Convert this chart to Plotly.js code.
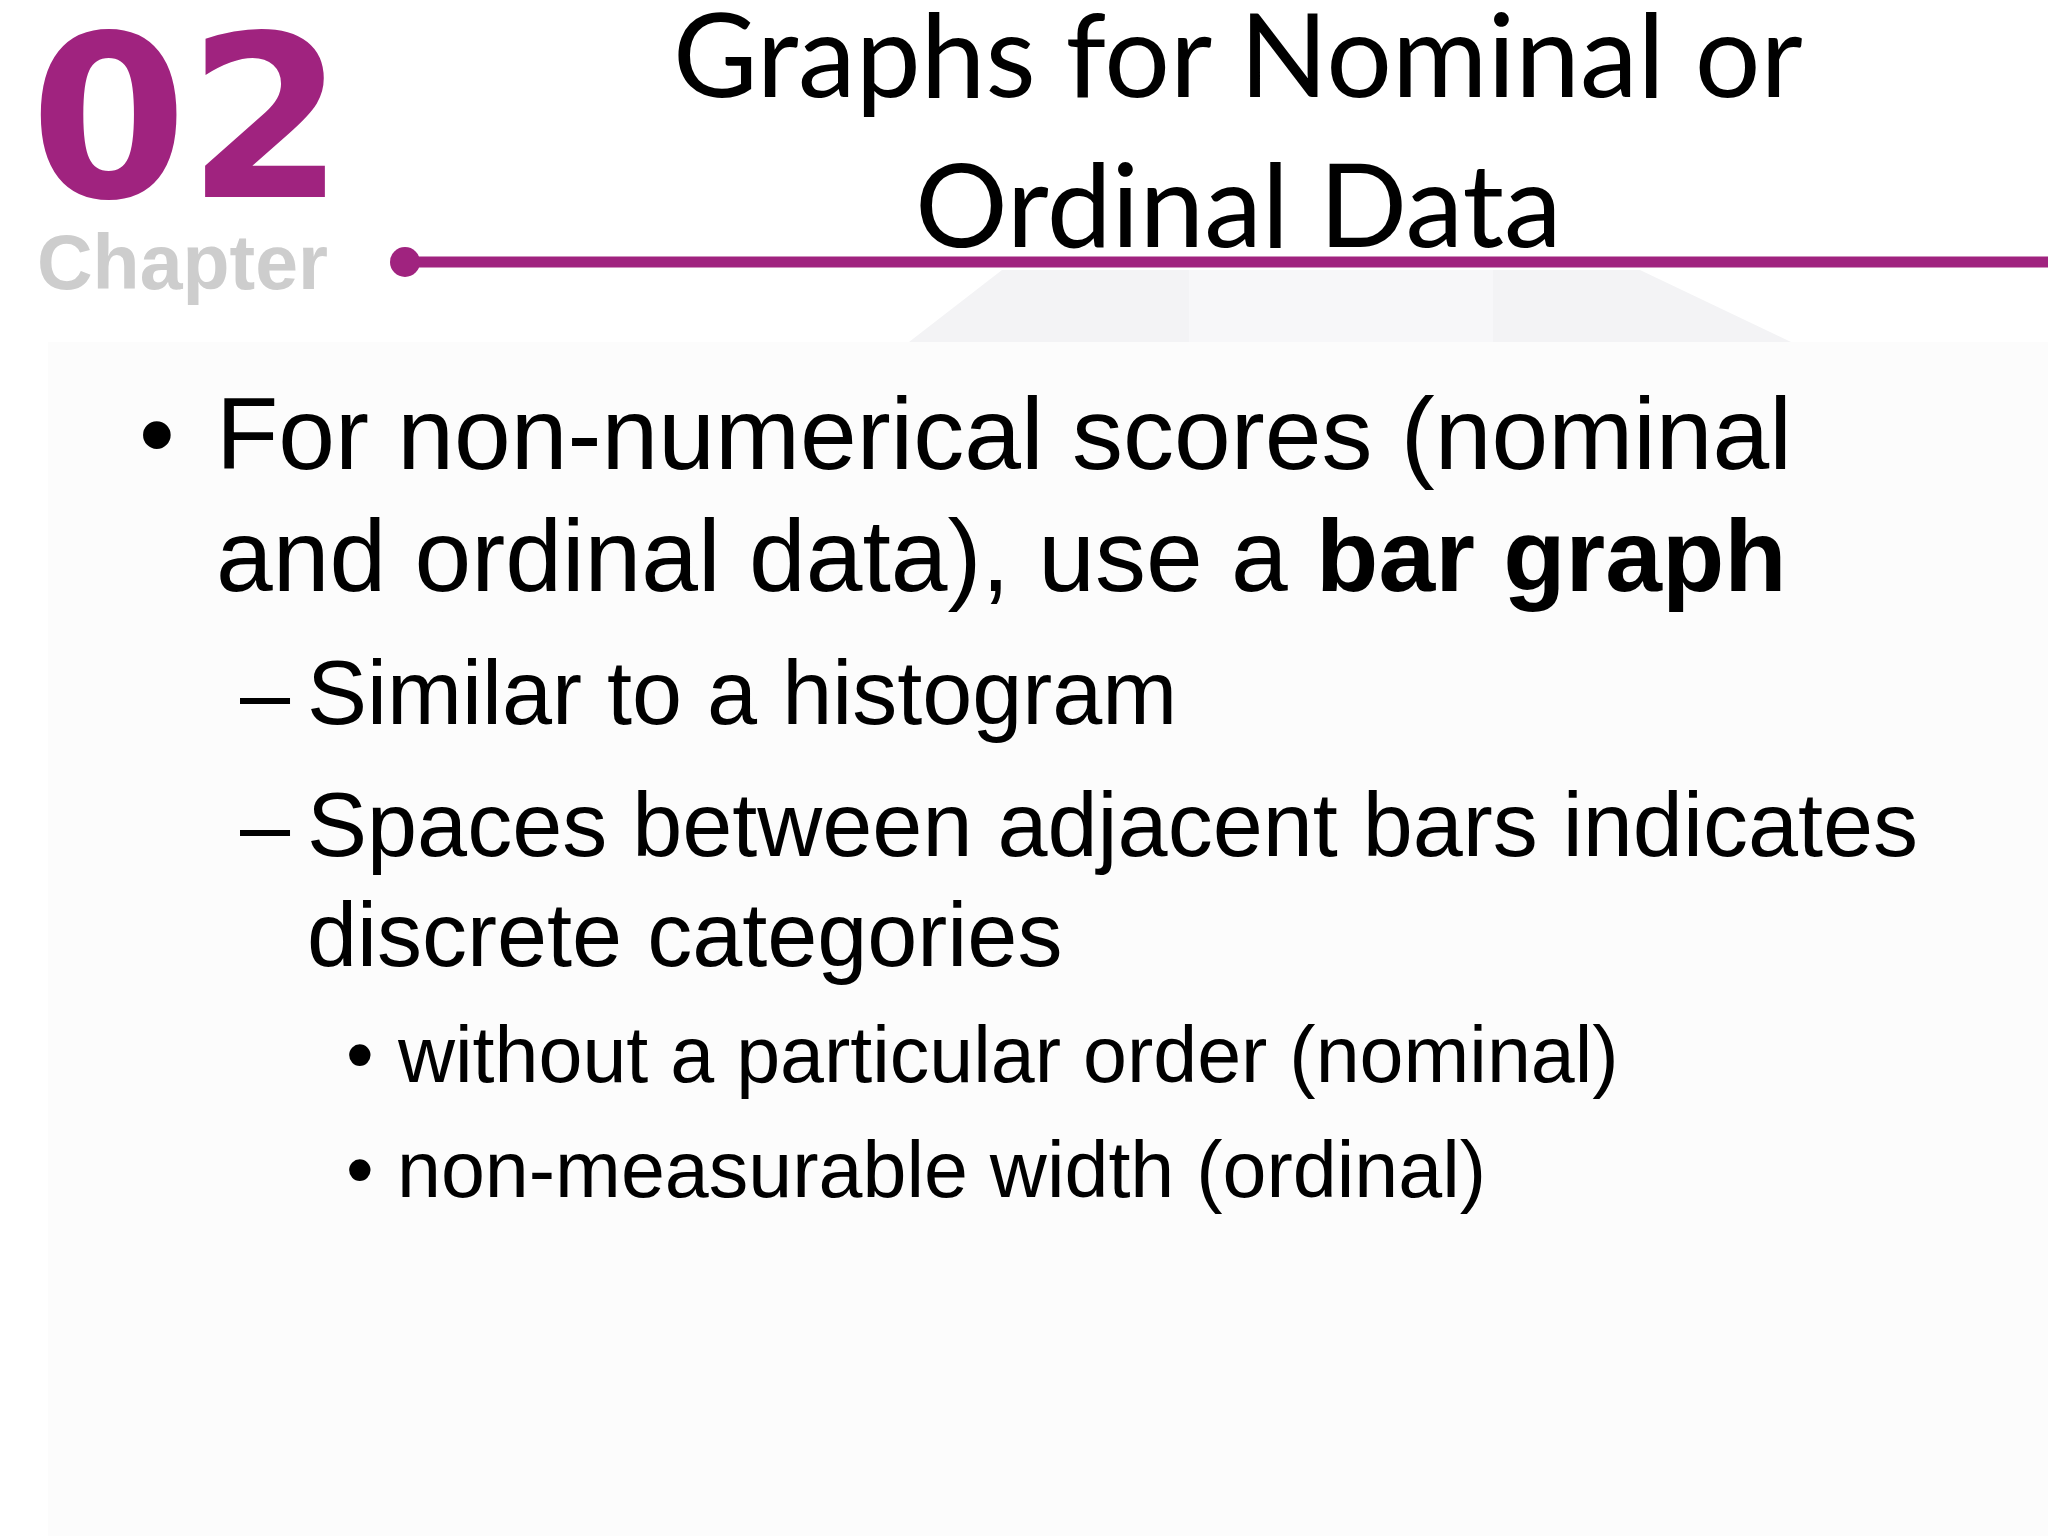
<!DOCTYPE html>
<html>
<head>
<meta charset="utf-8">
<script src="https://cdn.plot.ly/plotly-3.0.1.min.js"></script>
<style>
  body { margin: 0; padding: 0; background: #ffffff; }
  #slide { width: 2048px; height: 1536px; }
</style>
</head>
<body>
<div id="slide"></div>
<script>
// slide content
const chapterNum = '02';
const chapterWord = 'Chapter';
const titleLines = ['Graphs for Nominal or', 'Ordinal Data'];
const bodyLines = [
  'For non-numerical scores (nominal',
  'and ordinal data), use a <b>bar graph</b>',
  'Similar to a histogram',
  'Spaces between adjacent bars indicates',
  'discrete categories',
  'without a particular order (nominal)',
  'non-measurable width (ordinal)'
];
const bodyLevels = [1, 1, 2, 2, 2, 3, 3];
const bodyMarks = ['•', '', '–', '–', '', '•', '•'];

// layout constants (pixels, top-left origin)
const W = 2048, H = 1536;
const baselines = [469, 591, 724, 856, 966, 1082, 1197];
const lvl = {
  1: {size: 102, mark: 137, text: 214},
  2: {size: 90, mark: 238, text: 305},
  3: {size: 79, mark: 344, text: 395}
};
const purple = '#A0237F';
const bodyFont = 'Liberation Sans, Arial, sans-serif';

let annotations = [];

// big chapter number and word
annotations.push({
  x: 28, y: 197 - 0.346 * 226, xref: 'x', yref: 'y', xanchor: 'left', yanchor: 'middle',
  text: '<b>' + chapterNum + '</b>', showarrow: false,
  font: {family: 'DejaVu Sans, sans-serif', size: 226, color: purple}
});
annotations.push({
  x: 35, y: 289 - 0.3465 * 77, xref: 'x', yref: 'y', xanchor: 'left', yanchor: 'middle',
  text: '<b>' + chapterWord + '</b>', showarrow: false,
  font: {family: bodyFont, size: 77, color: '#CDCDCD'}
});

// title
const titleBase = [95, 245];
titleLines.forEach(function(t, i) {
  annotations.push({
    x: 1238, y: titleBase[i] - 0.37 * 116, xref: 'x', yref: 'y', xanchor: 'center', yanchor: 'middle',
    text: t, showarrow: false,
    font: {family: 'Lato, sans-serif', size: 116, color: '#000000'}
  });
});

// body lines
bodyLines.forEach(function(t, i) {
  const s = lvl[bodyLevels[i]];
  const yc = baselines[i] - 0.3465 * s.size;
  if (bodyMarks[i]) {
    annotations.push({
      x: s.mark, y: yc, xref: 'x', yref: 'y', xanchor: 'left', yanchor: 'middle',
      text: bodyMarks[i], showarrow: false,
      font: {family: bodyFont, size: s.size, color: '#000000'}
    });
  }
  annotations.push({
    x: s.text, y: yc, xref: 'x', yref: 'y', xanchor: 'left', yanchor: 'middle',
    text: t, showarrow: false,
    font: {family: bodyFont, size: s.size, color: '#000000'}
  });
});

const shapes = [
  // body background and white left strip
  {type: 'rect', xref: 'x', yref: 'y', x0: 48, x1: W, y0: 342, y1: H, fillcolor: '#FCFCFC', line: {width: 0}, layer: 'below'},
  // faint header trapezoid
  {type: 'path', xref: 'x', yref: 'y', path: 'M1002,270 L1640,270 L1791,342 L909,342 Z', fillcolor: '#F3F3F5', line: {width: 0}, layer: 'below'},
  {type: 'path', xref: 'x', yref: 'y', path: 'M1189,270 L1493,270 L1493,342 L1189,342 Z', fillcolor: '#F7F7F9', line: {width: 0}, layer: 'below'},
  // header rule with dot
  {type: 'line', xref: 'x', yref: 'y', x0: 404, x1: W, y0: 262, y1: 262, line: {color: purple, width: 11}},
  {type: 'circle', xref: 'x', yref: 'y', x0: 390, x1: 420, y0: 247, y1: 277, fillcolor: purple, line: {width: 0}}
];

const layout = {
  width: W,
  height: H,
  margin: {l: 0, r: 0, t: 0, b: 0},
  paper_bgcolor: '#ffffff',
  plot_bgcolor: '#ffffff',
  showlegend: false,
  xaxis: {range: [0, W], visible: false, fixedrange: true},
  yaxis: {range: [H, 0], visible: false, fixedrange: true},
  annotations: annotations,
  shapes: shapes
};

Plotly.newPlot('slide', [], layout, {staticPlot: true, displayModeBar: false});
</script>
</body>
</html>
